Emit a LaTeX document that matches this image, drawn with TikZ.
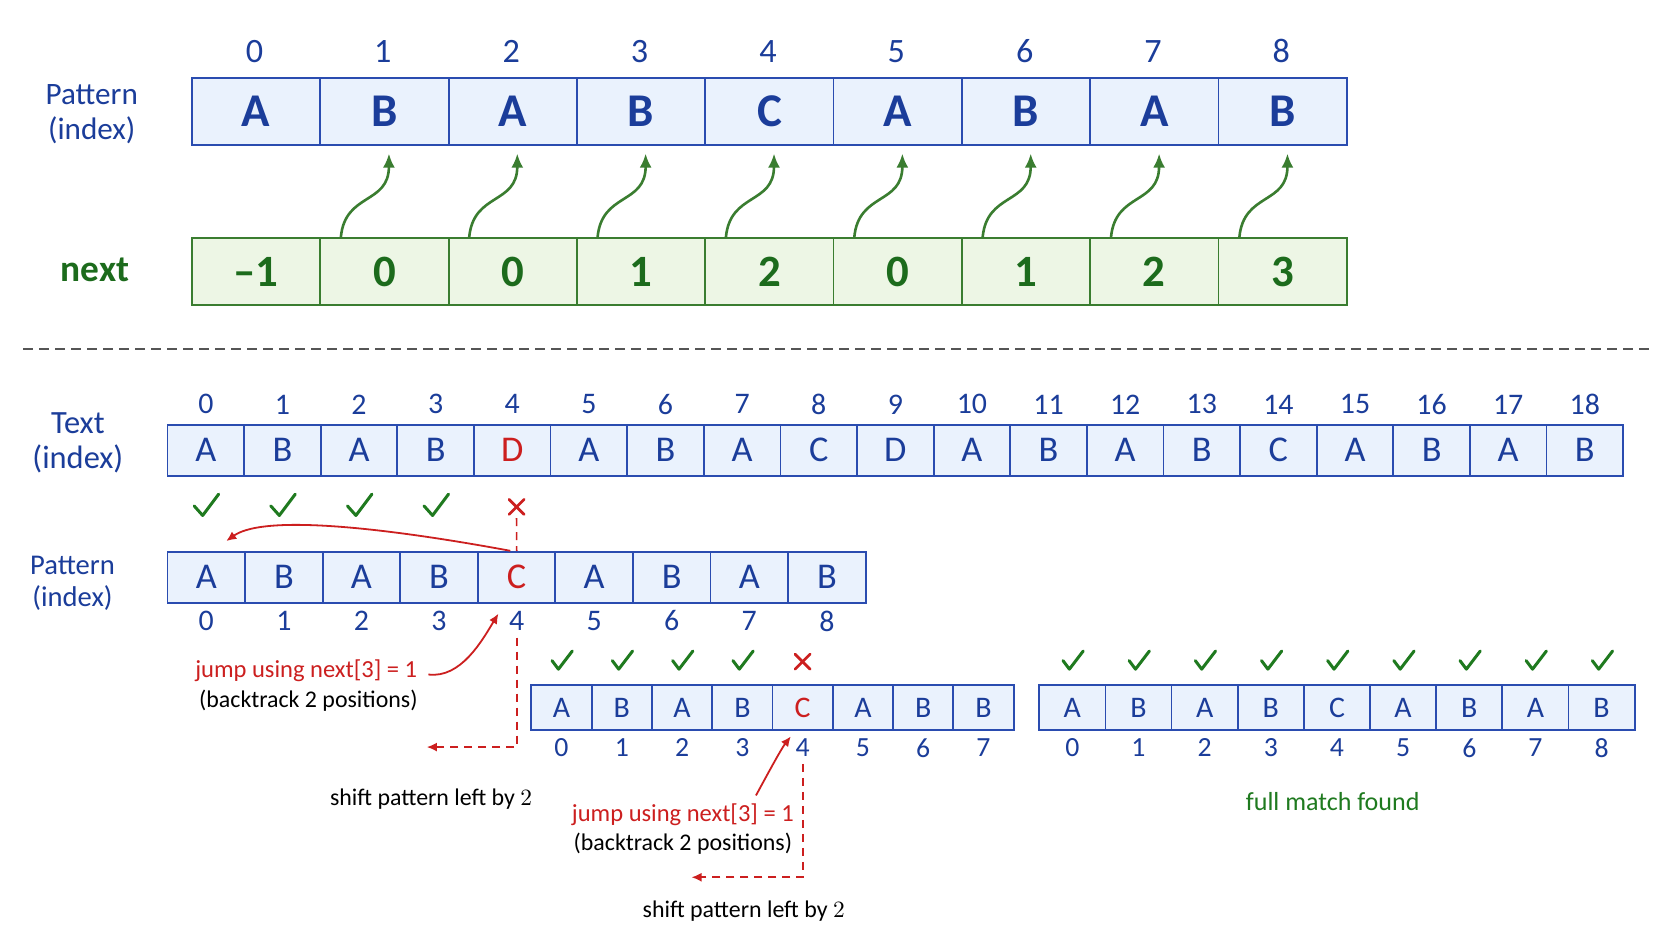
\documentclass[tikz,border=0pt]{standalone}
\usepackage{fontspec}
\setmainfont{Carlito}
\usetikzlibrary{arrows.meta,calc}
\definecolor{bl}{HTML}{1B3D9A}
\definecolor{blfill}{HTML}{EAF2FD}
\definecolor{blline}{HTML}{2A4CB0}
\definecolor{gr}{HTML}{1C6B1C}
\definecolor{grfill}{HTML}{EDF6E5}
\definecolor{grline}{HTML}{3A7D30}
\definecolor{chkg}{HTML}{1F7A1F}
\definecolor{rd}{HTML}{CC1F1F}
\definecolor{sepc}{HTML}{555555}
\begin{document}
\begin{tikzpicture}[x=0.5pt,y=-0.5pt,scale=1.0672,every node/.append style={transform shape},
  bcell/.style={draw=blline,fill=blfill,line width=0.9pt,inner sep=0pt,text=bl},
  gcell/.style={draw=grline,fill=grfill,line width=0.9pt,inner sep=0pt,text=gr},
  bigp/.style={bcell,minimum width=60.125pt,minimum height=31.5pt,font=\fontsize{22}{22}\selectfont\bfseries},
  bign/.style={gcell,minimum width=60.125pt,minimum height=31.5pt,font=\fontsize{21}{21}\selectfont\bfseries},
  tcell/.style={bcell,minimum width=35.9pt,minimum height=24pt,font=\fontsize{17}{17}\selectfont},
  qcell/.style={bcell,minimum width=36.35pt,minimum height=24pt,font=\fontsize{17}{17}\selectfont},
  rcell/.style={bcell,minimum width=28.25pt,minimum height=21pt,font=\fontsize{14}{14}\selectfont},
  scell/.style={bcell,minimum width=31pt,minimum height=21pt,font=\fontsize{14}{14}\selectfont},
  idxl/.style={text=bl,inner sep=0pt,font=\fontsize{16}{16}\selectfont},
  idxm/.style={text=bl,inner sep=0pt,font=\fontsize{14}{14}\selectfont},
  idxs/.style={text=bl,inner sep=0pt,font=\fontsize{13}{13}\selectfont},
  rowlab/.style={text=bl,align=center,inner sep=0pt,font=\fontsize{15}{16}\selectfont},
  ticknode/.style={inner sep=0pt,minimum size=8pt},
  chkline/.style={draw=chkg,line width=1.5pt,line cap=round,line join=round},
  crsline/.style={draw=rd,line width=1.4pt,line cap=round},
  garr/.style={draw=grline,line width=1.3pt,-{Latex[length=7pt,width=6pt]}},
  rarr/.style={draw=rd,line width=0.9pt,-{Latex[length=5pt,width=4.5pt]}},
  rdash/.style={draw=rd,line width=0.8pt,dash pattern=on 4pt off 3pt,-{Latex[length=5pt,width=4.5pt]}},
  rdashplain/.style={draw=rd,line width=0.8pt,dash pattern=on 4pt off 3pt},
  redtxt/.style={text=rd,inner sep=0pt,font=\fontsize{11.5}{11.5}\selectfont},
  blktxt/.style={text=black,inner sep=0pt,font=\fontsize{11.2}{11.2}\selectfont}
]
\useasboundingbox[fill=white] (0,0) rectangle (1567,882);

% ---------- top: pattern and next ----------
\node[rowlab,font=\fontsize{14.6}{16}\selectfont] (plab) at (86,107) {Pattern\\(index)};
\node[text=gr,inner sep=0pt,font=\fontsize{17.5}{17.5}\selectfont\bfseries] (nlab) at (89,253) {next};
\foreach \l [count=\k from 0] in {A,B,A,B,C,A,B,A,B} {
  \node[bigp] (p\k) at ({240.1+120.25*\k},104.5) {\l};
  \node[idxl] (pi\k) at ({238.5+120.3*\k},48) {\k};
}
\foreach \v [count=\k from 0] in {–1,0,0,1,2,0,1,2,3} {
  \node[bign] (n\k) at ({240.1+120.25*\k},254.5) {\v};
}
\foreach \k in {1,...,8} {
  \coordinate (s\k) at ($(n\k.north west)+(20,0)$);
  \coordinate (e\k) at ($(p\k.south)+(4,7)$);
  \draw[garr] (s\k) .. controls ($(s\k)+(4,-42)$) and ($(e\k)+(0,48)$) .. (e\k);
}

% ---------- separator ----------
\coordinate (sepa) at (22,327);
\coordinate (sepb) at (1550,327);
\draw[sepc,line width=0.7pt,dash pattern=on 5pt off 3pt] (sepa) -- (sepb);

% ---------- text row ----------
\node[rowlab,font=\fontsize{15.2}{16}\selectfont] (tlab) at (73,415) {Text\\(index)};
\foreach \l [count=\k from 0] in {A,B,A,B,{\color{rd}D},A,B,A,C,D,A,B,A,B,C,A,B,A,B} {
  \node[tcell] (t\k) at ({192.9+71.8*\k},422) {\l};
  \node[idxm] (ti\k) at ({192.9+71.8*\k},379) {\k};
}
\foreach \k in {0,...,3} {
  \node[ticknode] (c\k) at ({192.9+71.8*\k},474) {};
  \draw[chkline] ($(c\k)+(-11,0)$) -- ($(c\k)+(-3,9)$) -- ($(c\k)+(12,-11)$);
}
\node[ticknode] (x1) at (484,475) {};
\draw[crsline] ($(x1)+(-7,-7)$) -- ($(x1)+(7,7)$);
\draw[crsline] ($(x1)+(7,-7)$) -- ($(x1)+(-7,7)$);

% ---------- pattern row 2 ----------
\node[rowlab,font=\fontsize{13.4}{15}\selectfont] (qlab) at (68,547) {Pattern\\(index)};
\foreach \l [count=\k from 0] in {A,B,A,B,{\color{rd}C},A,B,A,B} {
  \node[qcell] (q\k) at ({193.35+72.7*\k},541) {\l};
  \node[idxm] (qi\k) at ({193.35+72.7*\k},582) {\k};
}
\draw[rdashplain] ($(x1.south)+(0,2)$) -- (q4.north);
\coordinate (bk1) at (212,507);
\draw[rarr] ($(q4.north)+(-6,0)$) .. controls (380,498) and (250,480) .. (bk1);

% annotation 1
\node[redtxt] (j1) at (287,629) {jump using next[3] = 1};
\node[blktxt] (b1) at (289,657) {(backtrack 2 positions)};
\coordinate (tip1) at (467,575);
\draw[rarr] ($(j1.east)+(10,3)$) .. controls (432,636) and (452,600) .. (tip1);
\coordinate (sh1) at (400,700);
\draw[rdash] ($(qi4.south)+(0,6)$) |- (sh1);
\node[blktxt] (s1) at (404,749) {shift pattern left by $2$};

% ---------- pattern row 3 ----------
\foreach \l [count=\k from 0] in {A,B,A,B,{\color{rd}C},A,B,B} {
  \node[rcell] (r\k) at ({526.25+56.5*\k},663) {\l};
  \node[idxs] (ri\k) at ({526.25+56.5*\k},701) {\k};
}
\foreach \k in {0,...,3} {
  \node[ticknode] (d\k) at ({526.25+56.5*\k},619) {};
  \draw[chkline] ($(d\k)+(-9,0)$) -- ($(d\k)+(-3,8)$) -- ($(d\k)+(10,-9)$);
}
\node[ticknode] (x2) at (752,620) {};
\draw[crsline] ($(x2)+(-7,-7)$) -- ($(x2)+(7,7)$);
\draw[crsline] ($(x2)+(7,-7)$) -- ($(x2)+(-7,7)$);

% annotation 2
\node[redtxt] (j2) at (640,764) {jump using next[3] = 1};
\node[blktxt] (b2) at (640,791) {(backtrack 2 positions)};
\coordinate (tip2) at (741,690);
\draw[rarr] ($(j2.north east)+(-36,-8)$) .. controls (718,728) and (732,702) .. (tip2);
\coordinate (sh2) at (648,822);
\draw[rdash] ($(ri4.south)+(0,6)$) |- (sh2);
\node[blktxt] (s2) at (697,854) {shift pattern left by $2$};

% ---------- pattern row 4 ----------
\foreach \l [count=\k from 0] in {A,B,A,B,C,A,B,A,B} {
  \node[scell] (u\k) at ({1005+62*\k},663) {\l};
  \node[idxs] (ui\k) at ({1005+62*\k},701) {\k};
  \node[ticknode] (f\k) at ({1005+62*\k},619) {};
  \draw[chkline] ($(f\k)+(-9,0)$) -- ($(f\k)+(-3,8)$) -- ($(f\k)+(10,-9)$);
}
\node[text=chkg,inner sep=0pt,font=\fontsize{12.2}{12.2}\selectfont] (full) at (1249,751) {full match found};
\end{tikzpicture}
\end{document}
